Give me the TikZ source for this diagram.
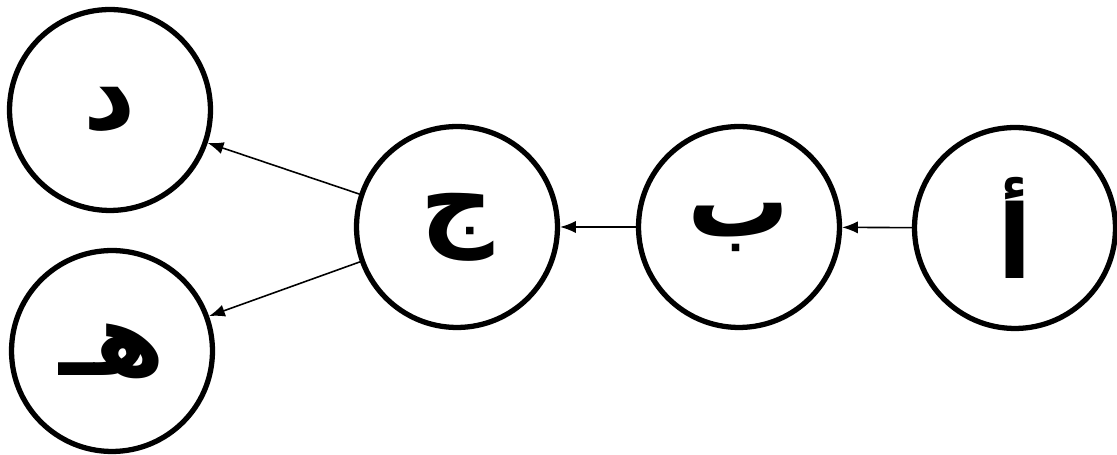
\documentclass[tikz,border=0pt]{standalone}
\usepackage{fontspec}
\newfontfamily\arabicfont[Script=Arabic]{DejaVu Sans}
\TeXXeTstate=1
\usetikzlibrary{arrows.meta}
\begin{document}
\begin{tikzpicture}[line cap=round, line join=round, >={Latex[length=9pt,width=7pt]}, x=0.02cm, y=-0.02cm]
			% Window in pixel units of the reference
			\useasboundingbox (0,0) rectangle (1117,455);
			
			% Style of the letter circles
			\tikzset{letter/.style={circle, draw, line width=3pt, minimum size=4.02cm, inner sep=0pt,
					font=\arabicfont\bfseries\fontsize{58}{62}\selectfont}}
			
			% Letter circles
			\node[letter] (dal)  at (110,110) {\beginR د\endR};
			\node[letter] (heh)  at (112,351) {\beginR هـ\endR};
			\node[letter] (jeem) at (457,227) {\beginR ج\endR};
			\node[letter] (beh)  at (739,227) {\beginR ب\endR};
			\node[letter] (alef) at (1015,228) {\beginR أ\endR};
			
			% Arrows between the circles
			\draw[->, line width=0.9pt] (alef) -- (beh);
			\draw[->, line width=0.9pt] (beh) -- (jeem);
			\draw[->, line width=0.9pt] (jeem) -- (dal);
			\draw[->, line width=0.9pt] (jeem) -- (heh);
		\end{tikzpicture}
\end{document}
